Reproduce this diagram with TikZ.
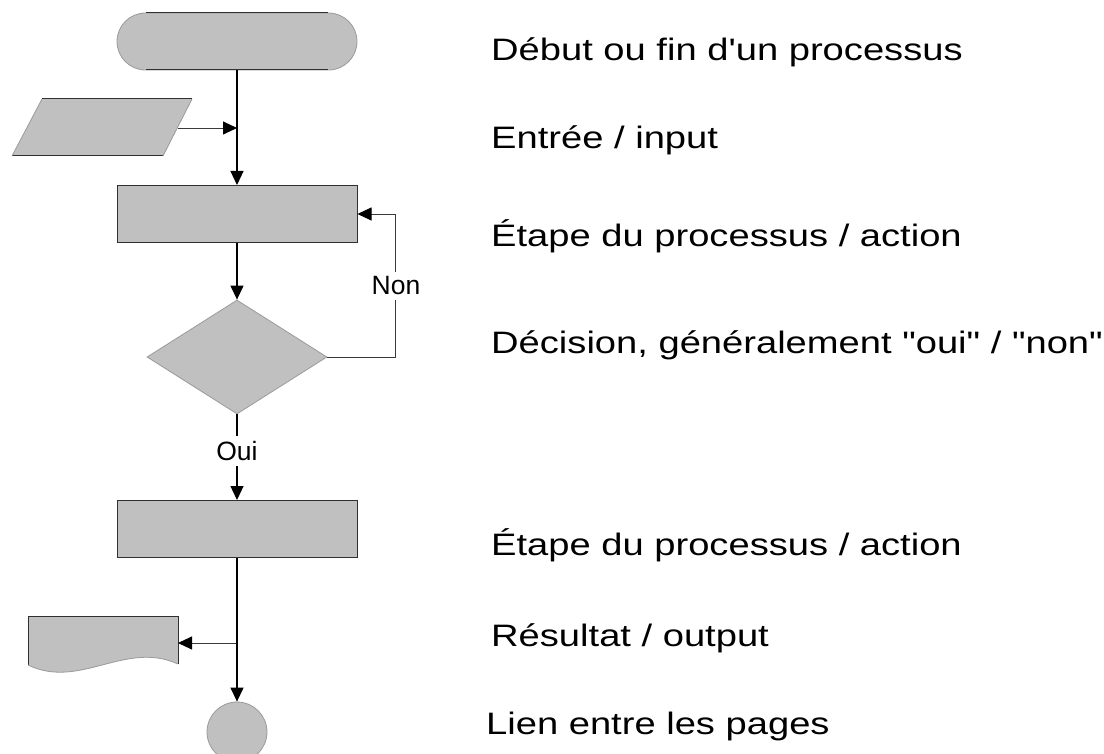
\documentclass[tikz,border=0pt]{standalone}
\usepackage{fontspec}
\setmainfont{Liberation Sans}[Ligatures=TeXOff]
\usepackage{graphicx}
\usetikzlibrary{arrows.meta,shapes.geometric,shapes.misc}

\definecolor{shapefill}{HTML}{C0C0C0}
\definecolor{edgedark}{HTML}{303030}
\definecolor{edgelight}{HTML}{9A9A9A}
\definecolor{sideline}{HTML}{3A3A3A}

% wide legend lettering
\newcommand{\widetext}[1]{\scalebox{1.23}[1]{#1}}

\begin{document}
\begin{tikzpicture}[x=1pt,y=-1pt,
  conn/.style={draw=black, line width=1.2pt,
    -{Triangle[length=14pt,width=13pt,color=black]}},
  sideconn/.style={conn, draw=sideline, line width=0.9pt},
  plainconn/.style={draw=black, line width=1.2pt},
  darkedge/.style={draw=edgedark, line width=1pt},
  lightedge/.style={draw=edgelight, line width=0.8pt},
  stepbox/.style={rectangle, fill=shapefill, draw=edgedark, line width=1pt,
    minimum width=240pt, minimum height=57pt, inner sep=0pt},
  legend/.style={anchor=base west, inner sep=0pt,
    font=\fontsize{31}{36}\selectfont},
  branchlabel/.style={fill=white, inner xsep=2pt, inner ysep=5pt,
    font=\fontsize{26.5}{30}\selectfont}
]
\path[use as bounding box] (0,0) rectangle (1104,754);

% start / end terminator
\node[rounded rectangle, fill=shapefill, lightedge,
  minimum width=240pt, minimum height=57pt, inner sep=0pt]
  (start) at (237,41.5) {};
\draw[darkedge] (146,13) -- (328,13) (146,70) -- (328,70);

% input parallelogram
\fill[shapefill] (42,99) -- (192,99) -- (163,156) -- (12,156) -- cycle;
\draw[darkedge] (42,99) -- (192,99) (12,156) -- (163,156);
\draw[lightedge] (42,99) -- (12,156) (192,99) -- (163,156);
\coordinate (input) at (177.5,128);
\coordinate (j1) at (237,128);

% process steps and decision
\node[stepbox] (act1) at (237,214) {};
\node[diamond, fill=shapefill, lightedge, minimum width=180pt,
  minimum height=114pt, inner sep=0pt] (dec) at (237,357) {};
\node[stepbox] (act2) at (237,529) {};

% output document
\fill[shapefill] (28,616) -- (178,616) -- (178,664)
  .. controls (125,640) and (80,690) .. (28,665) -- cycle;
\draw[darkedge] (28,665) -- (28,616) -- (178,616) -- (178,664);
\draw[lightedge] (178,664) .. controls (125,640) and (80,690) .. (28,665);
\coordinate (output) at (178,643);
\coordinate (j2) at (237,643);

% off-page connector
\node[circle, fill=shapefill, lightedge, minimum size=60pt, inner sep=0pt]
  (link) at (237,732) {};

% connectors
\coordinate (nonup) at (395,214);
\draw[conn] (start.south) -- (act1.north);
\draw[sideconn] (input) -- (j1);
\draw[conn] (act1.south) -- (dec.north);
\draw[sideconn] (dec.east) -| (nonup) -- (act1.east);
\node[branchlabel] (nonlab) at (396,286) {Non};
\draw[conn] (dec.south) -- (act2.north);
\node[branchlabel] (ouilab) at (237,451) {Oui};
\draw[plainconn] (act2.south) -- (j2);
\draw[sideconn] (j2) -- (output);
\draw[conn] (j2) -- (link.north);

% legend
\node[legend] (t1) at (491,61) {\widetext{Début ou fin d'un processus}};
\node[legend] (t2) at (491,149) {\widetext{Entrée / input}};
\node[legend] (t3) at (491,247) {\widetext{Étape du processus / action}};
\node[legend] (t4) at (491,353) {\widetext{Décision, généralement "oui" / "non"}};
\node[legend] (t5) at (491,555) {\widetext{Étape du processus / action}};
\node[legend] (t6) at (491,646) {\widetext{Résultat / output}};
\node[legend] (t7) at (486,734) {\widetext{Lien entre les pages}};
\end{tikzpicture}
\end{document}
